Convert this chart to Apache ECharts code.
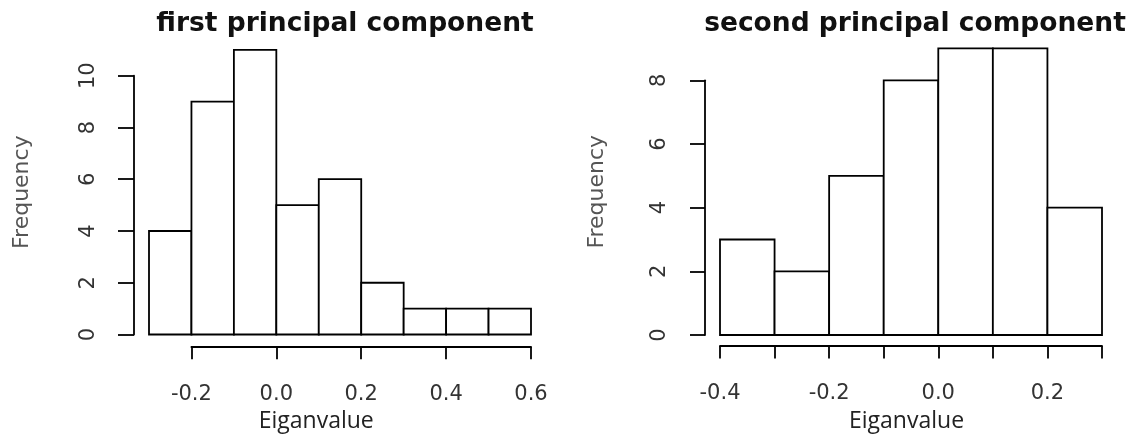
<!DOCTYPE html>
<html>
<head>
<meta charset="utf-8">
<script src="https://cdn.jsdelivr.net/npm/echarts@6/dist/echarts.min.js"></script>
<style>
  html, body { margin: 0; padding: 0; background: #fff; }
  #chart { width: 1130px; height: 435px; }
</style>
</head>
<body>
<div id="chart"></div>
<script>
// histogram 1: bin edges and counts
var pc1Edges = [-0.3, -0.2, -0.1, 0.0, 0.1, 0.2, 0.3, 0.4, 0.5, 0.6]
var pc1Counts = [4, 9, 11, 5, 6, 2, 1, 1, 1]
var pc1XTicks = [-0.2, 0.0, 0.2, 0.4, 0.6]
var pc1YTicks = [0, 2, 4, 6, 8, 10]

// histogram 2
var pc2Edges = [-0.4, -0.3, -0.2, -0.1, 0.0, 0.1, 0.2, 0.3]
var pc2Counts = [3, 2, 5, 8, 9, 9, 4]
var pc2XTicks = [-0.4, -0.3, -0.2, -0.1, 0.0, 0.1, 0.2, 0.3]
var pc2XLabels = [-0.4, -0.2, 0.0, 0.2]
var pc2YTicks = [0, 2, 4, 6, 8]

var titles = ['first principal component', 'second principal component']
var xName = 'Eiganvalue'
var yName = 'Frequency'

var FONT = 'DejaVu Sans'

function binData (edges, counts) {
  return counts.map(function (c, i) { return [edges[i], edges[i + 1], c] })
}

function renderBin (params, api) {
  var p0 = api.coord([api.value(0), 0])
  var p1 = api.coord([api.value(1), api.value(2)])
  return {
    type: 'rect',
    shape: { x: p0[0], y: p1[1], width: p1[0] - p0[0], height: p0[1] - p1[1] },
    style: { fill: '#fff', stroke: '#000', lineWidth: 1.8 }
  }
}

function fmt (v) { return (Math.round(v * 10) / 10).toFixed(1) }

var lineStyle = { color: '#000', width: 1.8 }
var hidden = { show: false }

// plot boxes (px)
var L = { x0: 149, x1: 531, y0: 334.5, unit: 25.88, yTop: 10, xl: 191.4 }
var R = { x0: 720, x1: 1102, y0: 335, unit: 31.84, yTop: 8, xl: 720 }

function barsGrid (b, ymax) {
  return { left: b.x0, top: b.y0 - ymax * b.unit, width: b.x1 - b.x0, height: ymax * b.unit }
}

var option = {
  animation: false,
  title: [
    { text: titles[0], left: 340, top: 6, textAlign: 'center',
      textStyle: { fontFamily: FONT, fontSize: 26.5, fontWeight: 'bold', color: '#111' } },
    { text: titles[1], left: 910, top: 6, textAlign: 'center',
      textStyle: { fontFamily: FONT, fontSize: 26.5, fontWeight: 'bold', color: '#111' } }
  ],
  grid: [
    barsGrid(L, 11),
    { left: 134, top: L.y0 - L.yTop * L.unit, width: 2, height: L.yTop * L.unit },
    { left: L.xl, top: 340, width: L.x1 - L.xl, height: 6.7 },
    barsGrid(R, 9),
    { left: 705, top: R.y0 - R.yTop * R.unit, width: 2, height: R.yTop * R.unit },
    { left: R.xl, top: 340, width: R.x1 - R.xl, height: 6 }
  ],
  xAxis: [
    { gridIndex: 0, type: 'value', min: -0.3, max: 0.6, show: false },
    { gridIndex: 1, type: 'value', min: 0, max: 1, show: false },
    {
      gridIndex: 2, type: 'value', min: -0.2, max: 0.6, position: 'bottom',
      axisLine: { show: true, lineStyle: lineStyle },
      axisTick: { show: true, length: 12.5, lineStyle: lineStyle, customValues: pc1XTicks },
      axisLabel: { customValues: pc1XTicks, formatter: fmt, margin: 37, fontFamily: FONT, fontSize: 21, color: '#333' },
      splitLine: hidden
    },
    { gridIndex: 3, type: 'value', min: -0.4, max: 0.3, show: false },
    { gridIndex: 4, type: 'value', min: 0, max: 1, show: false },
    {
      gridIndex: 5, type: 'value', min: -0.4, max: 0.3, position: 'bottom',
      axisLine: { show: true, lineStyle: lineStyle },
      axisTick: { show: true, length: 12.5, lineStyle: lineStyle, customValues: pc2XTicks },
      axisLabel: { customValues: pc2XLabels, formatter: fmt, margin: 37, fontFamily: FONT, fontSize: 21, color: '#333' },
      splitLine: hidden
    }
  ],
  yAxis: [
    {
      gridIndex: 0, type: 'value', min: 0, max: 11,
      name: yName, nameLocation: 'middle', nameRotate: 90, nameGap: 116,
      nameTextStyle: { fontFamily: FONT, fontSize: 22, color: '#555' },
      axisLine: hidden, axisTick: hidden, axisLabel: hidden, splitLine: hidden
    },
    {
      gridIndex: 1, type: 'value', min: 0, max: 10, position: 'left',
      axisLine: { show: true, lineStyle: lineStyle },
      axisTick: { show: true, length: 16, lineStyle: lineStyle, customValues: pc1YTicks },
      axisLabel: { customValues: pc1YTicks, rotate: 90, margin: 35, fontFamily: FONT, fontSize: 21, color: '#333' },
      splitLine: hidden
    },
    { gridIndex: 2, type: 'value', show: false },
    {
      gridIndex: 3, type: 'value', min: 0, max: 9,
      name: yName, nameLocation: 'middle', nameRotate: 90, nameGap: 112,
      nameTextStyle: { fontFamily: FONT, fontSize: 22, color: '#555' },
      axisLine: hidden, axisTick: hidden, axisLabel: hidden, splitLine: hidden
    },
    {
      gridIndex: 4, type: 'value', min: 0, max: 8, position: 'left',
      axisLine: { show: true, lineStyle: lineStyle },
      axisTick: { show: true, length: 15, lineStyle: lineStyle, customValues: pc2YTicks },
      axisLabel: { customValues: pc2YTicks, rotate: 90, margin: 35, fontFamily: FONT, fontSize: 21, color: '#333' },
      splitLine: hidden
    },
    { gridIndex: 5, type: 'value', show: false }
  ],
  graphic: [
    { type: 'text', left: 317.7 - 59, top: 410,
      style: { text: xName, font: '23px "Open Sans"', fill: '#222' } },
    { type: 'text', left: 908 - 59, top: 410,
      style: { text: xName, font: '23px "Open Sans"', fill: '#222' } }
  ],
  series: [
    {
      type: 'custom', xAxisIndex: 0, yAxisIndex: 0,
      renderItem: renderBin, encode: { x: [0, 1], y: 2 },
      data: binData(pc1Edges, pc1Counts)
    },
    {
      type: 'custom', xAxisIndex: 3, yAxisIndex: 3,
      renderItem: renderBin, encode: { x: [0, 1], y: 2 },
      data: binData(pc2Edges, pc2Counts)
    }
  ]
}

var chart = echarts.init(document.getElementById('chart'))
chart.setOption(option)
</script>
</body>
</html>
